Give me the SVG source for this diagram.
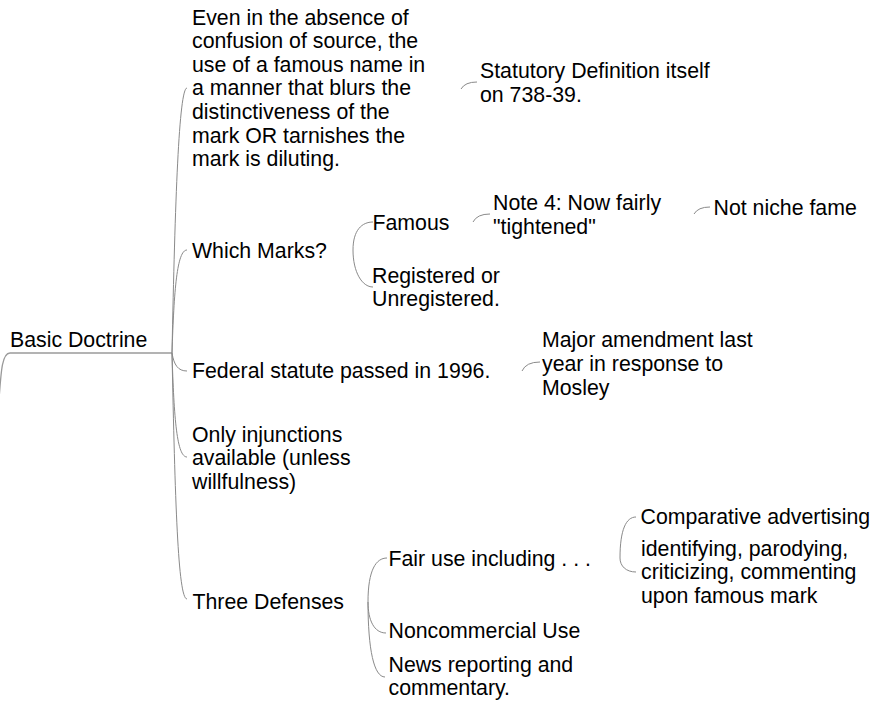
<svg xmlns="http://www.w3.org/2000/svg" width="877" height="702" viewBox="0 0 877 702">
<style>
  .bg { fill: #ffffff; }
  .t { font-family: "Liberation Sans", Arial, sans-serif; font-size: 21.3px; fill: #000000; }
  .c { fill: none; stroke: #8a8a8a; stroke-width: 1; }
  .u { fill: none; stroke: #9a9a9a; stroke-width: 1.3; }
</style>
<rect class="bg" x="0" y="0" width="877" height="702"/>
<g id="connectors">
  <path class="u" d="M-1,400 C1,372 2,353 10,353 L172,353"/>
  <path class="c" d="M172,353 C175,200 179,88 187,88"/>
  <path class="c" d="M172,353 C174,290 177,250 187,250"/>
  <path class="c" d="M172,353 C174,365 178,371 187,371"/>
  <path class="c" d="M172,353 C174,420 177,457 187,457"/>
  <path class="c" d="M172,353 C175,500 178,599 187,599"/>
  <path class="c" d="M461,89 Q465,82 477,82"/>
  <path class="c" d="M353,250 C353,230 362,222 373,222"/>
  <path class="c" d="M353,250 C353,272 362,287 373,287"/>
  <path class="c" d="M473,222 Q477,214 490,214"/>
  <path class="c" d="M694,214 Q698,207 710,207"/>
  <path class="c" d="M522,371 Q526,362 540,362"/>
  <path class="c" d="M368,602 C368,570 376,558 387,558"/>
  <path class="c" d="M368,602 C368,620 374,633 386,633"/>
  <path class="c" d="M368,602 C368,650 374,677 385,677"/>
  <path class="c" d="M620,558 C620,530 626,517 636,517"/>
  <path class="c" d="M620,558 C620,566 626,572 636,572"/>
</g>
<g id="node-basic-doctrine">
  <text class="t" x="10" y="346.7">Basic Doctrine</text>
</g>
<g id="node-definition">
  <text class="t" x="192">
    <tspan x="192" y="24.5">Even in the absence of</tspan>
    <tspan x="192" dy="23.6">confusion of source, the</tspan>
    <tspan x="192" dy="23.6">use of a famous name in</tspan>
    <tspan x="192" dy="23.6">a manner that blurs the</tspan>
    <tspan x="192" dy="23.6">distinctiveness of the</tspan>
    <tspan x="192" dy="23.6">mark OR tarnishes the</tspan>
    <tspan x="192" dy="23.6">mark is diluting.</tspan>
  </text>
</g>
<g id="node-statutory">
  <text class="t">
    <tspan x="480" y="78.3">Statutory Definition itself</tspan>
    <tspan x="480" dy="23.5">on 738-39.</tspan>
  </text>
</g>
<g id="node-which-marks">
  <text class="t" x="192" y="257.5">Which Marks?</text>
</g>
<g id="node-famous">
  <text class="t" x="372.5" y="229.5">Famous</text>
</g>
<g id="node-registered">
  <text class="t">
    <tspan x="372" y="282.5">Registered or</tspan>
    <tspan x="372" dy="23.5">Unregistered.</tspan>
  </text>
</g>
<g id="node-note4">
  <text class="t">
    <tspan x="493" y="210">Note 4: Now fairly</tspan>
    <tspan x="493" dy="23.5">"tightened"</tspan>
  </text>
</g>
<g id="node-niche">
  <text class="t" x="713.5" y="215">Not niche fame</text>
</g>
<g id="node-federal">
  <text class="t" x="192" y="377.8">Federal statute passed in 1996.</text>
</g>
<g id="node-amendment">
  <text class="t">
    <tspan x="542" y="347.3">Major amendment last</tspan>
    <tspan x="542" dy="23.6">year in response to</tspan>
    <tspan x="542" dy="23.6">Mosley</tspan>
  </text>
</g>
<g id="node-injunctions">
  <text class="t">
    <tspan x="192" y="441.7">Only injunctions</tspan>
    <tspan x="192" dy="23.6">available (unless</tspan>
    <tspan x="192" dy="23.6">willfulness)</tspan>
  </text>
</g>
<g id="node-three-defenses">
  <text class="t" x="192.5" y="609.3">Three Defenses</text>
</g>
<g id="node-fair-use">
  <text class="t" x="388.5" y="565.5">Fair use including . . .</text>
</g>
<g id="node-comparative">
  <text class="t" x="640.5" y="524">Comparative advertising</text>
</g>
<g id="node-identifying">
  <text class="t">
    <tspan x="641" y="555.5">identifying, parodying,</tspan>
    <tspan x="641" dy="23.5">criticizing, commenting</tspan>
    <tspan x="641" dy="23.5">upon famous mark</tspan>
  </text>
</g>
<g id="node-noncommercial">
  <text class="t" x="388.5" y="638.3">Noncommercial Use</text>
</g>
<g id="node-news">
  <text class="t">
    <tspan x="388.5" y="671.5">News reporting and</tspan>
    <tspan x="388.5" dy="23.5">commentary.</tspan>
  </text>
</g>
</svg>
